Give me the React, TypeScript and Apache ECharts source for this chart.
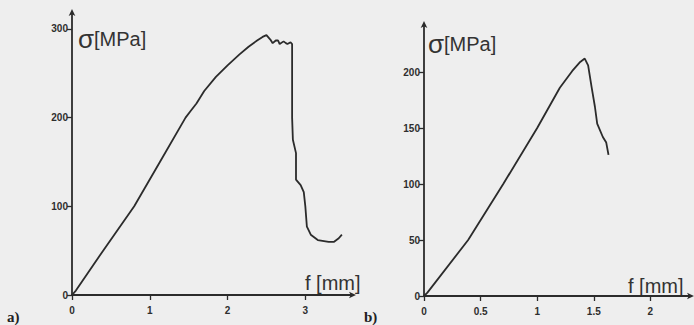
import React, { useEffect, useRef } from "react";
import * as echarts from "echarts";

// Panel a) deflection f [mm] and stress σ [MPa]
const fA = [0, 0.05, 0.4, 0.8, 1.13, 1.46, 1.52, 1.6, 1.7, 1.85, 2.0, 2.15, 2.27, 2.38, 2.45, 2.5, 2.55, 2.58, 2.62, 2.65, 2.67, 2.72, 2.75, 2.77, 2.81, 2.83, 2.83, 2.84, 2.88, 2.88, 2.94, 2.98, 3.0, 3.02, 3.07, 3.16, 3.3, 3.37, 3.43, 3.47];
const sigmaA = [0, 5, 50, 100, 150, 200, 207, 216, 230, 246, 259, 271, 280, 287, 291, 293, 288, 284, 287, 287, 283, 286, 284, 283, 285, 283, 200, 175, 160, 130, 124, 116, 100, 77, 68, 62, 60, 60, 64, 68];

// Panel b)
const fB = [0, 0.03, 0.39, 0.7, 1.0, 1.2, 1.31, 1.38, 1.42, 1.45, 1.48, 1.51, 1.53, 1.58, 1.61, 1.63];
const sigmaB = [0, 3, 50, 100, 150, 186, 201, 209, 212, 206, 187, 169, 154, 142, 137, 126];

const ticksXA = [0, 1, 2, 3];
const ticksYA = [0, 100, 200, 300];
const ticksXB = [0, 0.5, 1, 1.5, 2];
const ticksYB = [0, 50, 100, 150, 200];

const INK = "#2b2b2b";
const FONT = "Liberation Sans, Arial, sans-serif";

function axisStyle(ticks: number[]) {
  return {
    axisLine: { show: true, onZero: false, symbol: ["none", "arrow"], symbolSize: [5, 7], symbolOffset: [0, 4], lineStyle: { color: INK, width: 1.8 } },
    axisTick: { show: true, customValues: ticks, length: 5, lineStyle: { color: INK, width: 1.3 } },
    axisLabel: { customValues: ticks, color: "#2e2e2e", fontSize: 10, fontWeight: "bold", fontFamily: FONT, formatter: (v: number) => String(v) },
    splitLine: { show: false },
  };
}

const sigmaRich = {
  s: { fontSize: 26, fontFamily: FONT, fill: "#333", color: "#333" },
  m: { fontSize: 20, fontFamily: FONT, fill: "#333", color: "#333" },
};

export default function App() {
  const ref = useRef<HTMLDivElement>(null);
  useEffect(() => {
    if (!ref.current) return;
    const chart = echarts.init(ref.current, null, { renderer: "svg" });
    const dataA = fA.map((f, i) => [f, sigmaA[i]]);
    const dataB = fB.map((f, i) => [f, sigmaB[i]]);
    const xa = axisStyle(ticksXA);
    const ya = axisStyle(ticksYA);
    const xb = axisStyle(ticksXB);
    const yb = axisStyle(ticksYB);
    chart.setOption({
      animation: false,
      backgroundColor: "#eeeeee",
      grid: [
        { left: 72, right: 342, top: 13, bottom: 30 },
        { left: 424, right: 4, top: 25, bottom: 29 },
      ],
      xAxis: [
        { type: "value", gridIndex: 0, min: 0, max: 3.6, ...xa, axisLabel: { ...xa.axisLabel, margin: 10 } },
        { type: "value", gridIndex: 1, min: 0, max: 2.35, ...xb, axisLabel: { ...xb.axisLabel, margin: 10 } },
      ],
      yAxis: [
        { type: "value", gridIndex: 0, min: 0, max: 318, ...ya, axisLabel: { ...ya.axisLabel, margin: 4 } },
        { type: "value", gridIndex: 1, min: 0, max: 242, ...yb, axisLabel: { ...yb.axisLabel, margin: 4 } },
      ],
      series: [
        { type: "line", xAxisIndex: 0, yAxisIndex: 0, data: dataA, showSymbol: false, lineStyle: { color: INK, width: 1.8 } },
        { type: "line", xAxisIndex: 1, yAxisIndex: 1, data: dataB, showSymbol: false, lineStyle: { color: INK, width: 1.8 } },
      ],
      graphic: [
        { type: "text", left: 78, top: 26, style: { text: "{s|σ}{m|[MPa]}", rich: sigmaRich } },
        { type: "text", left: 428, top: 31, style: { text: "{s|σ}{m|[MPa]}", rich: sigmaRich } },
        { type: "text", left: 305, top: 273, style: { text: "f [mm]", fontSize: 20, fontFamily: FONT, fill: "#333" } },
        { type: "text", left: 628, top: 276, style: { text: "f [mm]", fontSize: 20, fontFamily: FONT, fill: "#333" } },
        { type: "text", left: 7, top: 309, style: { text: "a)", fontSize: 15, fontWeight: "bold", fontFamily: "Liberation Serif, serif", fill: "#222" } },
        { type: "text", left: 364, top: 309, style: { text: "b)", fontSize: 15, fontWeight: "bold", fontFamily: "Liberation Serif, serif", fill: "#222" } },
      ],
    });
    return () => chart.dispose();
  }, []);
  return <div ref={ref} style={{ position: "fixed", left: 0, top: 0, width: 694, height: 325 }} />;
}
